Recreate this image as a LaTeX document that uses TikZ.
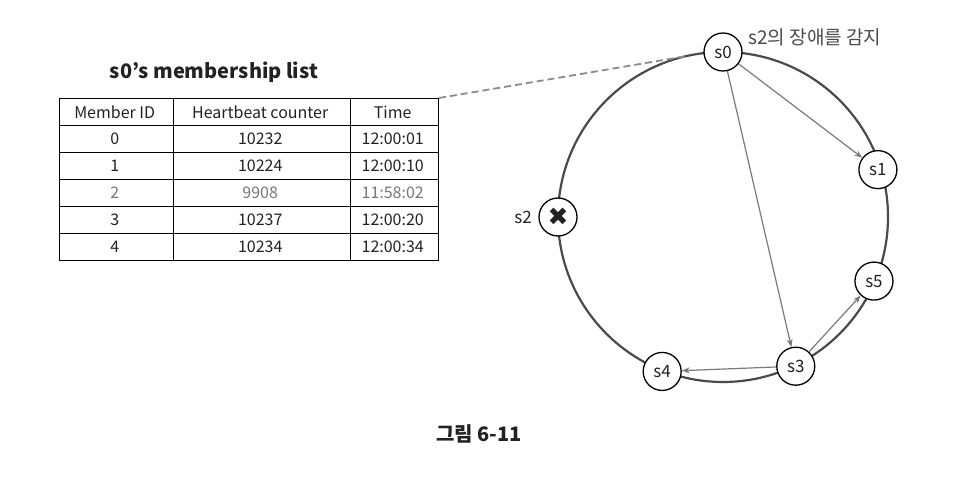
\documentclass[tikz,border=0pt]{standalone}
\usepackage{fontspec}
\usepackage{xcolor}
\usetikzlibrary{positioning,calc,matrix,arrows.meta}
\setmainfont{Noto Sans CJK KR}
\newfontfamily\symfont{DejaVu Sans}
\definecolor{ringgray}{HTML}{4A4A4A}
\definecolor{arrowgray}{HTML}{7A7A7A}
\definecolor{dashgray}{HTML}{8C8C8C}
\definecolor{textdark}{HTML}{222222}
\definecolor{staletext}{HTML}{767676}

\begin{document}
\begin{tikzpicture}[
    x=1pt, y=-1pt,
    every node/.style={align=center, text=textdark},
    server/.style={circle, draw=black, line width=1.3pt, fill=white, minimum size=38pt, inner sep=0pt, font=\fontsize{17}{19}\selectfont},
    cell/.style={draw=black, line width=1pt, minimum height=27pt, inner sep=0pt, anchor=center, font=\fontsize{16}{18}\selectfont},
    ring/.style={draw=ringgray, line width=2.2pt},
    gossip/.style={-{Stealth[length=8pt, width=6pt]}, line width=1.2pt, draw=arrowgray},
    link/.style={dashed, dash pattern=on 7pt off 4pt, line width=1.8pt, draw=dashgray}
]
\useasboundingbox (0,0) rectangle (960,502);

% Membership table
\node[font=\fontsize{20}{24}\selectfont\bfseries] (title) at (214,72) {s0’s membership list};
\matrix[matrix of nodes, nodes in empty cells, anchor=north west,
    inner sep=0pt, outer sep=0pt,
    column sep=-1pt, row sep=-1pt,
    nodes={cell},
    column 1/.style={nodes={minimum width=114pt}},
    column 2/.style={nodes={minimum width=177pt}},
    column 3/.style={nodes={minimum width=88pt}},
    row 4/.style={nodes={text=staletext}}
] (tbl) at (59,98) {
    Member ID & Heartbeat counter & Time \\
    0 & 10232 & 12:00:01 \\
    1 & 10224 & 12:00:10 \\
    2 & 9908 & 11:58:02 \\
    3 & 10237 & 12:00:20 \\
    4 & 10234 & 12:00:34 \\
};

% Ring of servers
\coordinate (ring) at (723,217);
\draw[ring] (ring) circle (165);
\coordinate (tap) at ($(ring)+(103:165 and -165)$);

\node[server] (s0) at ($(ring)+(90:165 and -165)$) {s0};
\node[server] (s1) at ($(ring)+(17:162 and -162)$) {s1};
\node[server] (s5) at ($(ring)+(-23:164 and -164)$) {s5};
\node[server] (s3) at ($(ring)+(-64:166 and -166)$) {s3};
\node[server] (s4) at ($(ring)+(-111.5:166 and -166)$) {s4};
\node[server, font=\symfont\fontsize{25}{25}\selectfont] (s2) at ($(ring)+(180:165 and -165)$) {✖};

% Labels
\node[left=3pt of s2, font=\fontsize{17}{19}\selectfont] (s2name) {s2};
\node[anchor=west, font=\fontsize{19}{21}\selectfont, text=ringgray] (detect) at (745,37) {s2의 장애를 감지};

% Link from table to s0
\draw[link] (tbl.north east) -- (tap);

% Heartbeat arrows
\draw[gossip] (s0) -- (s1);
\draw[gossip] (s0) -- (s3);
\draw[gossip] (s3) -- (s5);
\draw[gossip] (s3) -- (s4);

% Caption
\node[font=\fontsize{20}{22}\selectfont\bfseries] (caption) at (479,434) {그림 6-11};

\end{tikzpicture}
\end{document}
